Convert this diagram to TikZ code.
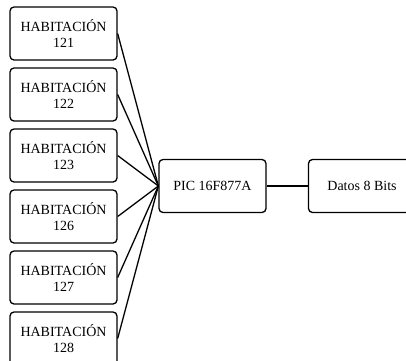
\documentclass[tikz,border=0pt]{standalone}
\usepackage{fontspec}
\setmainfont{Liberation Serif}
\begin{document}
\begin{tikzpicture}[x=1pt,y=-1pt,
  caja/.style={draw,line width=1.3pt,rounded corners=4pt,fill=white,
    minimum width=107pt,minimum height=53pt,align=center,
    font=\fontsize{14}{15.5}\selectfont}]
\useasboundingbox (0,0) rectangle (406,360);
% habitaciones
\foreach \n/\i in {121/0,122/1,123/2,126/3,127/4,128/5}
  \node[caja] (h\n) at (63.5,33.5+61*\i) {HABITACIÓN\\\n};
\node[caja] (pic) at (212.5,186) {PIC 16F877A};
\node[caja] (datos) at (362,186) {Datos 8 Bits};
\foreach \n in {121,122,123,126,127,128}
  \draw[line width=1.3pt] (h\n.east) -- (pic.west);
\draw[line width=1.3pt] (pic) -- (datos);
\end{tikzpicture}
\end{document}
